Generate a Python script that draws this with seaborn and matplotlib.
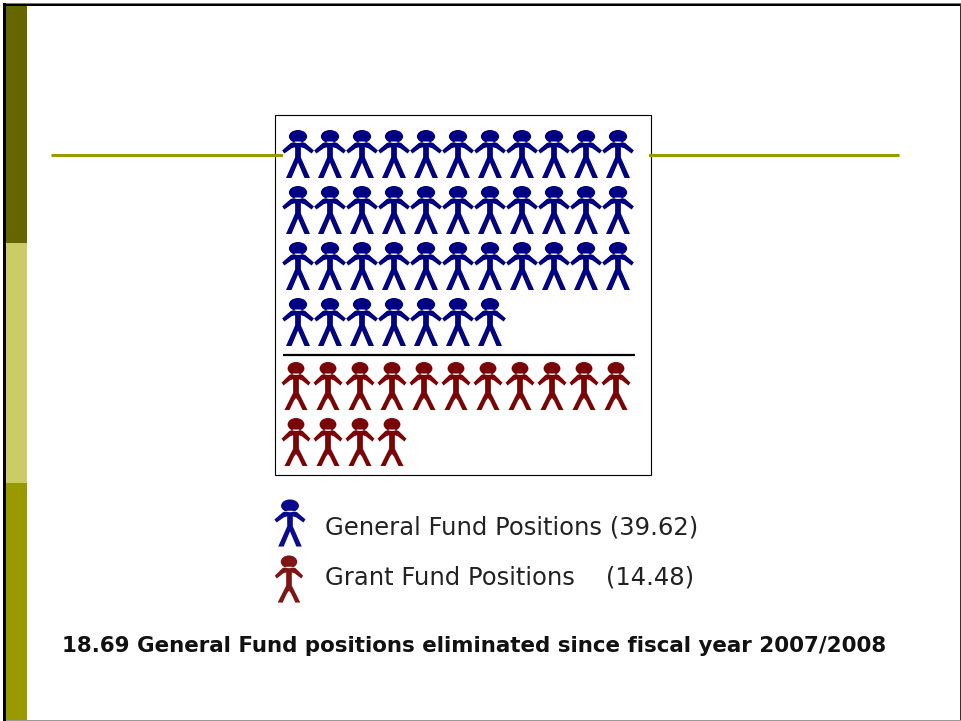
import math
import numpy as np
import pandas as pd
import matplotlib
matplotlib.use('Agg')
import matplotlib.pyplot as plt
from matplotlib.patches import Rectangle
from matplotlib.path import Path
import seaborn as sns

# values from the slide
groups = ['General Fund Positions', 'Grant Fund Positions']
positions = [39.62, 14.48]
eliminated = 18.69
start_year = '2007/2008'
group_colors = ['#000080', '#7b0505']
legend_colors = ['#0a0a8c', '#7f1414']
per_row = 11


def person_marker(head_w, head_h, head_y, half_body):
    # half outline mirrored on x, y goes up (markers are drawn in screen space)
    half = np.array(half_body)
    mirrored = half[::-1] * [-1, 1]
    outline = np.vstack([half, mirrored, half[:1]])
    circle = Path.unit_circle()
    head = circle.vertices * [head_w, head_h] + [0, head_y]
    verts = np.vstack([head, outline])
    codes = np.concatenate([circle.codes,
                            [Path.MOVETO] + [Path.LINETO] * (len(outline) - 2) + [Path.CLOSEPOLY]])
    return Path(verts, codes)


blue_man = person_marker(0.38, 0.27, 0.73, [
    (0.10, 0.52), (0.30, 0.46), (0.66, 0.15), (0.57, 0.02), (0.26, 0.24),
    (0.12, 0.28), (0.12, -0.14), (0.50, -1.0), (0.27, -1.0), (0.0, -0.36)])
red_man = person_marker(0.35, 0.27, 0.73, [
    (0.10, 0.52), (0.28, 0.46), (0.60, 0.14), (0.52, 0.02), (0.24, 0.24),
    (0.12, 0.28), (0.12, -0.28), (0.24, -0.52), (0.48, -1.0), (0.27, -1.0),
    (0.08, -0.60), (0.0, -0.50)])
markers = {groups[0]: blue_man, groups[1]: red_man}


def grid_table(name, value, left, top):
    # one figure per started position, filled row by row
    n = math.ceil(value)
    idx = np.arange(n)
    return pd.DataFrame({'group': name,
                         'x': left + 32 * (idx % per_row),
                         'y': top + 56 * (idx // per_row)})


table = pd.concat([grid_table(groups[0], positions[0], 298, 154),
                   grid_table(groups[1], positions[1], 296, 386)])
legend_table = pd.DataFrame({'group': groups, 'x': [290, 289], 'y': [523, 579]})

sns.set_theme(style='white')
plt.rcParams['font.family'] = ['DejaVu Sans']

fig = plt.figure(figsize=(9.61, 7.21), dpi=100)
ax = fig.add_axes([0, 0, 1, 1])
ax.set_xlim(0, 961)
ax.set_ylim(721, 0)
ax.axis('off')

# slide template
for y0, y1, c in [(6, 243, '#666600'), (243, 483, '#cccc66'), (483, 720, '#999900')]:
    ax.add_patch(Rectangle((6, y0), 21, y1 - y0, color=c, lw=0, zorder=1))
ax.add_patch(Rectangle((3, 3), 958, 1, color='#777777', lw=0, zorder=2))
ax.add_patch(Rectangle((3, 4), 958, 2, color='black', lw=0, zorder=2))
ax.add_patch(Rectangle((3, 3), 3, 718, color='black', lw=0, zorder=2))
ax.add_patch(Rectangle((959.5, 4), 1.5, 717, color='#333333', lw=0, zorder=2))
ax.add_patch(Rectangle((6, 720), 955, 1, color='#999999', lw=0, zorder=2))

# pictogram box, the rule runs a little way into it on both sides
ax.add_patch(Rectangle((274.9, 114.9), 376, 360, fc='white', ec='black', lw=0.8, zorder=3))
ax.plot([51, 899], [154.9, 154.9], color='#999900', lw=2.2, solid_capstyle='butt', zorder=3.5)
ax.add_patch(Rectangle((283, 150), 366, 12, color='white', lw=0, zorder=3.6))
ax.plot([283, 635], [355, 355], color='black', lw=1.6, solid_capstyle='butt', zorder=4)

sns.scatterplot(data=table, x='x', y='y', hue='group', style='group', hue_order=groups,
                palette=group_colors, markers=markers, s=1194, linewidth=0,
                legend=False, zorder=5, ax=ax)
sns.scatterplot(data=legend_table, x='x', y='y', hue='group', style='group', hue_order=groups,
                palette=legend_colors, markers=markers, s=1150, linewidth=0,
                legend=False, zorder=5, ax=ax)
ax.set_xlim(0, 961)
ax.set_ylim(721, 0)

ax.text(325, 528, f'{groups[0]} ({positions[0]:.2f})', fontsize=17.5, color='#222222',
        va='center', ha='left', zorder=6)
ax.text(325, 577, f'{groups[1]}    ({positions[1]:.2f})', fontsize=17.5, color='#222222',
        va='center', ha='left', zorder=6)
ax.text(62, 646, f'{eliminated} General Fund positions eliminated since fiscal year {start_year}',
        fontsize=15.4, fontweight='bold', color='#111111', va='center', ha='left', zorder=6)

fig.savefig('out.png', dpi=100)
